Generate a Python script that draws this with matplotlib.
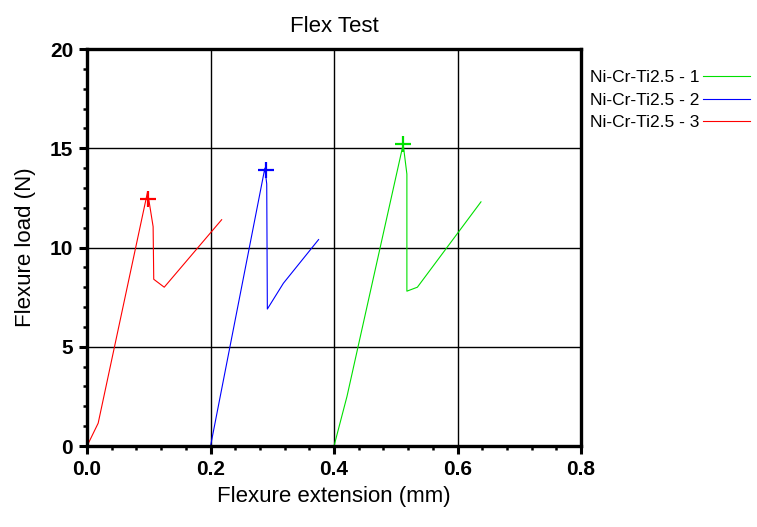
import matplotlib
matplotlib.use("Agg")
import matplotlib.pyplot as plt
from matplotlib.ticker import MultipleLocator

plt.rcParams["font.family"] = ["Liberation Sans", "DejaVu Sans"]

# specimen curves: extension (mm) vs load (N)
x1 = [0.400, 0.421, 0.512, 0.518, 0.518, 0.535, 0.638]
y1 = [0.0, 2.5, 15.2, 13.7, 7.8, 8.0, 12.3]
x2 = [0.200, 0.288, 0.291, 0.292, 0.318, 0.375]
y2 = [0.0, 14.0, 13.2, 6.9, 8.2, 10.4]
x3 = [0.000, 0.018, 0.098, 0.107, 0.108, 0.125, 0.218]
y3 = [0.0, 1.15, 12.8, 11.05, 8.4, 8.0, 11.4]

# peak markers
peak_x = [0.512, 0.290, 0.098]
peak_y = [15.2, 13.9, 12.45]

labels = ["Ni-Cr-Ti2.5 - 1", "Ni-Cr-Ti2.5 - 2", "Ni-Cr-Ti2.5 - 3"]
colors = ["#00e000", "#0000ff", "#ff0000"]

fig = plt.figure(figsize=(7.57, 5.27), dpi=100)
ax = fig.add_axes([0.115, 0.1537, 0.6525, 0.7533])

for xs, ys, c, lab in zip([x1, x2, x3], [y1, y2, y3], colors, labels):
    ax.plot(xs, ys, color=c, lw=0.8, label=lab)
for px, py, c in zip(peak_x, peak_y, colors):
    ax.plot(px, py, marker="+", color=c, ms=12, mew=1.6, linestyle="none")

ax.set_xlim(0, 0.8)
ax.set_ylim(0, 20)
ax.xaxis.set_major_locator(MultipleLocator(0.2))
ax.xaxis.set_minor_locator(MultipleLocator(0.04))
ax.yaxis.set_major_locator(MultipleLocator(5))
ax.yaxis.set_minor_locator(MultipleLocator(1))
ax.set_xticklabels(["%.1f" % v for v in ax.get_xticks()])
ax.grid(True, which="major", color="black", lw=1.0)
ax.set_axisbelow(True)

for s in ax.spines.values():
    s.set_linewidth(2.4)
ax.tick_params(which="major", direction="out", length=6, width=2.2, labelsize=15, pad=4)
ax.tick_params(which="minor", direction="out", length=3, width=1.8)
ax.tick_params(axis="x", which="both", top=False)
for lbl in ax.get_xticklabels() + ax.get_yticklabels():
    lbl.set_fontweight("bold")

ax.set_title("Flex Test", fontsize=16, pad=12)
ax.set_xlabel("Flexure extension (mm)", fontsize=16, labelpad=5)
ax.set_ylabel("Flexure load (N)", fontsize=16, labelpad=10)

ax.legend(loc="upper left", bbox_to_anchor=(0.768, 0.883), bbox_transform=fig.transFigure,
          frameon=False, markerfirst=False, fontsize=12.5, handlelength=2.7,
          handletextpad=0.2, labelspacing=0.42, borderpad=0)

fig.savefig("out.png", dpi=100)
